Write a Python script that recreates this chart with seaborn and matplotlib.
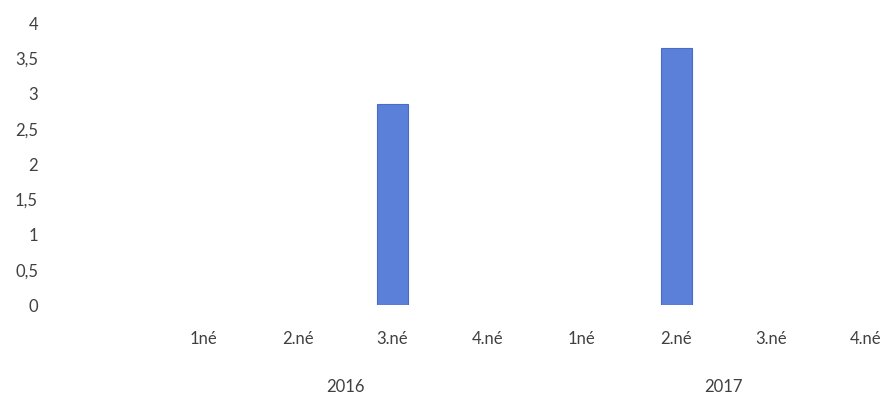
import pandas as pd
import seaborn as sns
import matplotlib.pyplot as plt
from matplotlib.ticker import FuncFormatter
from matplotlib.transforms import blended_transform_factory

# data
years = ["2016", "2017"]
quarters = ["1né", "2.né", "3.né", "4.né"]
values_2016 = [0, 0, 2.85, 0]
values_2017 = [0, 3.65, 0, 0]

rows = []
for year, vals in zip(years, [values_2016, values_2017]):
    for q, v in zip(quarters, vals):
        rows.append({"key": f"{year} {q}", "year": year, "quarter": q, "value": v})
df = pd.DataFrame(rows)

sns.set_theme(style="white")
plt.rcParams["font.family"] = ["Lato", "DejaVu Sans"]
text_color = "#404040"

fig = plt.figure(figsize=(8.91, 3.98), dpi=100)
ax = fig.add_axes([45 / 891, 93 / 398, 846 / 891, 282 / 398])

sns.barplot(data=df, x="key", y="value", order=list(df["key"]),
            color="#5b80d9", saturation=1, width=0.33,
            edgecolor="#4a6cc6", linewidth=0.8, ax=ax)

# hide the outline of empty bars
for p in ax.patches:
    if p.get_height() == 0:
        p.set_linewidth(0)

# category spacing (~94.7 px per category)
step = 94.7
ax.set_xlim(-(203 - 45) / step, (891 - 203) / step)
ax.set_ylim(0, 4)
ax.set_yticks([i * 0.5 for i in range(9)])
ax.yaxis.set_major_formatter(FuncFormatter(lambda v, _: f"{v:g}".replace(".", ",")))

ax.set_xticks(range(len(df)))
ax.set_xticklabels(df["quarter"])
ax.tick_params(axis="x", length=0, pad=19, labelsize=12, colors=text_color)
ax.tick_params(axis="y", length=0, pad=5, labelsize=12, colors=text_color)
ax.set_xlabel("")
ax.set_ylabel("")

for s in ax.spines.values():
    s.set_visible(False)
ax.grid(False)

# year group labels under the categories
trans = blended_transform_factory(ax.transData, ax.transAxes)
for year in years:
    idx = df.index[df["year"] == year]
    ax.text(idx.to_numpy().mean(), -0.29, year, transform=trans,
            ha="center", va="center", fontsize=12, color=text_color)

fig.savefig("out.png", dpi=100)
